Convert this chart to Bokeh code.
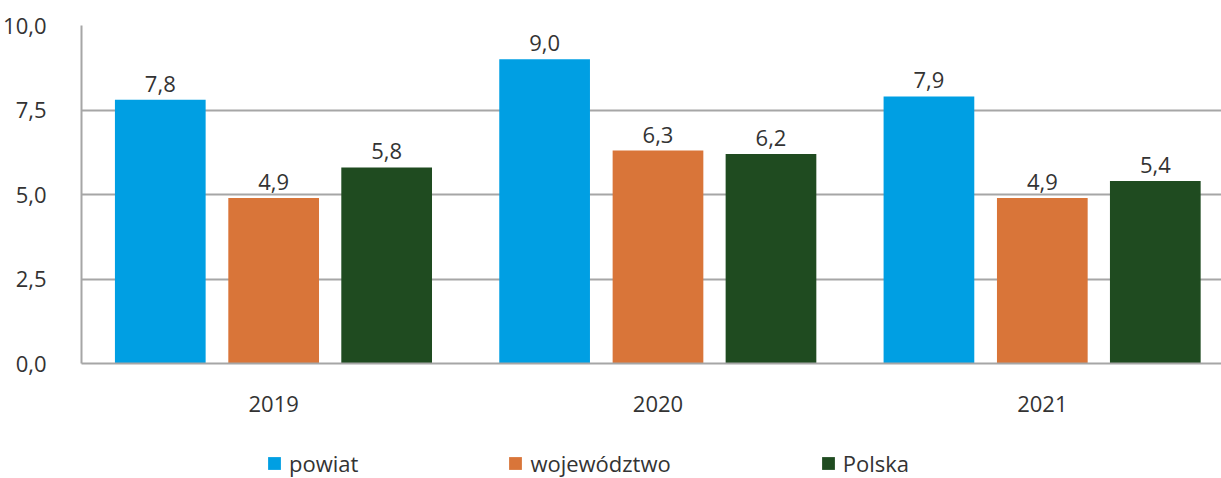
from bokeh.plotting import figure
from bokeh.layouts import column
from bokeh.models import (Range1d, FixedTicker, CustomJSTickFormatter, Legend, LegendItem,
                          ColumnDataSource)
from bokeh.core.properties import value
from bokeh.embed import file_html
from bokeh.resources import INLINE

years = ["2019", "2020", "2021"]
series_names = ["powiat", "województwo", "Polska"]
powiat = [7.8, 9.0, 7.9]
wojewodztwo = [4.9, 6.3, 4.9]
polska = [5.8, 6.2, 5.4]
colors = ["#009FE3", "#D97539", "#1F4B20"]
y_ticks = [0, 2.5, 5, 7.5, 10]

FONT = "Open Sans"
TXT = "#333333"
GRID = "#A6A6A6"
W = 1221
LEFT = 79
XEND = (W - LEFT) / 385

p = figure(width=W, height=420,
           x_range=Range1d(0, XEND), y_range=Range1d(0, 10),
           output_backend="svg", toolbar_location=None,
           min_border_left=LEFT, min_border_right=0, min_border_top=25, min_border_bottom=57)
p.outline_line_color = None
p.background_fill_color = "white"

# legend strip below the chart (frames are aligned by the column layout)
lg = figure(width=W, height=58, x_range=Range1d(0, XEND), y_range=Range1d(100, 101),
            output_backend="svg", toolbar_location=None,
            x_axis_location=None, y_axis_location=None,
            min_border_left=LEFT, min_border_right=0, min_border_top=0, min_border_bottom=0)
lg.outline_line_color = None
lg.xgrid.grid_line_color = None
lg.ygrid.grid_line_color = None

offsets = [-0.295, 0.0, 0.294]
items = []
for name, vals, off, col in zip(series_names, [powiat, wojewodztwo, polska], offsets, colors):
    xs = [i + 0.5 + off for i in range(len(years))]
    src = ColumnDataSource(dict(x=xs, top=vals, lab=[f"{v:.1f}".replace(".", ",") for v in vals]))
    p.vbar(x="x", top="top", bottom=0, width=0.236, source=src, fill_color=col, line_color=None)
    p.text(x="x", y="top", text="lab", source=src, text_align="center", text_baseline="bottom",
           y_offset=-8, text_font=value(FONT), text_font_size="22px", text_color=TXT)
    # same bars in the legend strip (out of its visible y range) only to feed the legend swatch
    r = lg.vbar(x="x", top="top", bottom=0, width=0.236, source=src, fill_color=col, line_color=None)
    items.append(LegendItem(label=name, renderers=[r]))

# axes
p.yaxis.ticker = FixedTicker(ticks=y_ticks)
p.yaxis.formatter = CustomJSTickFormatter(code="return tick.toFixed(1).replace('.', ',');")
p.yaxis.major_label_text_font = FONT
p.yaxis.major_label_text_font_size = "22px"
p.yaxis.major_label_text_color = TXT
p.yaxis.major_label_standoff = 29
p.yaxis.major_tick_line_color = None
p.yaxis.minor_tick_line_color = None
p.yaxis.axis_line_color = GRID
p.yaxis.axis_line_width = 2

p.xaxis.ticker = FixedTicker(ticks=[i + 0.5 for i in range(len(years))])
p.xaxis.formatter = CustomJSTickFormatter(args=dict(years=years), code="return years[Math.floor(tick)];")
p.xaxis.major_label_text_font = FONT
p.xaxis.major_label_text_font_size = "22px"
p.xaxis.major_label_text_color = TXT
p.xaxis.major_label_standoff = 26
p.xaxis.major_tick_line_color = None
p.xaxis.minor_tick_line_color = None
p.xaxis.axis_line_color = GRID
p.xaxis.axis_line_width = 2

p.xgrid.grid_line_color = None
p.ygrid.ticker = FixedTicker(ticks=y_ticks)
p.ygrid.grid_line_color = GRID
p.ygrid.grid_line_width = 2

legend = Legend(items=items, orientation="horizontal", location=(185, 0), spacing=149,
                label_standoff=7, glyph_width=16, glyph_height=16, padding=0, margin=0,
                border_line_color=None, background_fill_alpha=0,
                label_text_font=FONT, label_text_font_size="22px", label_text_color=TXT)
lg.add_layout(legend, "center")

open("out.html", "w").write(file_html(column(p, lg, spacing=0), INLINE))
